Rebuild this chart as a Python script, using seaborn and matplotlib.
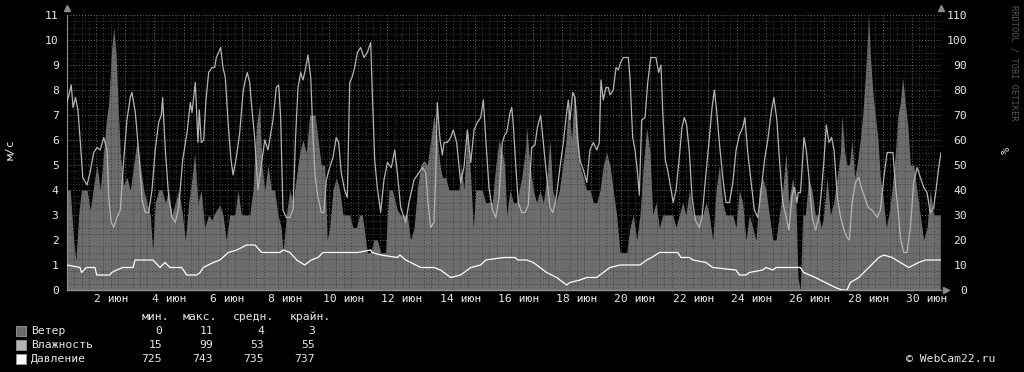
import matplotlib
matplotlib.use("Agg")
import matplotlib.pyplot as plt
from matplotlib.patches import Rectangle
import numpy as np
import pandas as pd
import seaborn as sns

# ---------------- data (hours since 1 June 00:00) ----------------
wind_hours = [0, 2.7, 5.5, 7.4, 9.6, 11.8, 16.5, 19.2, 22, 24.7, 27.4, 30.2, 32.4, 34.4, 36.5, 38.5, 40.4, 42, 43.9, 46.7,
              49.4, 52.1, 54.9, 57.7, 60.4, 63.2, 65.9, 68.6, 70.6, 72.7, 75.5, 78.3, 81, 83.8, 86.5, 89.2, 92, 94.7, 97.5,
              100.3, 103, 105.2, 107.9, 110.6, 113.4, 116.7, 119.5, 121.9, 126, 128.5, 131.2, 134, 138.2, 140.9, 143.6,
              146.9, 150.5, 153.2, 155.9, 158.7, 160.6, 162.9, 165.6, 168.3, 171.1, 173.8, 176.5, 177.9, 180.7, 183.5,
              186.2, 188.9, 191.7, 194.4, 197.1, 199.9, 202.7, 204.5, 206.8, 209.5, 212.3, 214.4, 216.4, 219.1, 221.8,
              224.6, 227.4, 230.1, 232.9, 235.6, 238.3, 241.1, 243.3, 247.4, 250.2, 252.9, 255.6, 258.4, 262.5, 263.9,
              265.3, 268, 272.1, 274.9, 277.6, 280.3, 283.1, 285.9, 288.6, 291.4, 294.1, 296.8, 299.6, 302.3, 305.1,
              307.3, 309.2, 312, 314.7, 317.4, 320.2, 322.9, 324.8, 327, 329.8, 332.6, 334.7, 336.7, 339.4, 342.1, 344.9,
              347.6, 350.4, 353.2, 355.9, 358.6, 360.6, 362.2, 365, 367.7, 370.5, 374.6, 377.3, 378.7, 381.4, 384.1,
              386.9, 389.7, 392.4, 395.2, 397.9, 400.1, 402.8, 405.6, 408.4, 411.1, 413, 415.8, 417.7, 419.9, 422.6,
              425.4, 428.1, 430.8, 433.6, 436.4, 439.1, 441.8, 444.6, 447.3, 450, 452.8, 455.6, 458.3, 461.1, 463.8,
              466.5, 469.3, 472, 474.8, 477.5, 480.3, 482.5, 485.2, 488, 490.7, 493.5, 496.2, 499, 501.7, 504.4, 507.2,
              509.9, 512.7, 515.5, 518.2, 520.9, 523.7, 526.4, 529.1, 531.9, 534.7, 537.4, 540.2, 542.9, 545.6, 548.4,
              551.1, 553.9, 556.6, 559.4, 562.1, 564.9, 567.6, 570.3, 573.1, 575.8, 578.6, 581.4, 584.1, 586.8, 589.6,
              592.3, 594.5, 597.8, 600.5, 602.2, 604.1, 606, 608.2, 611, 613.7, 616.5, 619.2, 621.4, 623.4, 626.1, 628.9,
              631.6, 634.4, 637.1, 638.4, 640.7, 642.6, 644.5, 646.7, 648.9, 650.8, 653.5, 655.5, 657.6, 659.3, 660.4,
              661.7, 663.7, 665.9, 668.1, 670, 672.8, 674.9, 676.9, 679.6, 682.4, 684.6, 686.5, 688.4, 690.6, 692.8,
              694.7, 697.5, 700.2, 702.9, 705.7, 708.5, 711.2, 714, 716.7, 719.4]
wind_values = [4.0, 4.0, 2.0, 1.2, 3.0, 4.0, 4.0, 3.2, 4.2, 5.0, 4.0, 5.5, 6.8, 7.5, 9.5, 10.5, 9.5, 7.5, 5.5, 4.2,
               4.5, 4.0, 5.0, 6.0, 5.0, 4.0, 3.5, 3.0, 1.6, 3.5, 4.0, 4.0, 3.5, 4.0, 3.0, 3.5, 4.0, 3.2, 2.0,
               3.5, 4.5, 5.5, 3.5, 4.0, 2.5, 3.0, 2.8, 3.1, 3.4, 3.0, 2.0, 3.0, 3.0, 4.0, 3.0,
               3.0, 3.0, 4.0, 6.5, 7.5, 5.0, 4.0, 5.0, 4.0, 4.0, 3.0, 2.5, 1.5, 3.0, 4.0,
               3.5, 4.5, 5.5, 6.0, 5.5, 7.0, 7.0, 7.0, 6.0, 5.0, 5.0, 2.0, 2.5, 4.0, 4.5,
               4.0, 3.0, 3.0, 3.0, 2.5, 2.5, 3.0, 3.0, 1.5, 1.5, 2.0, 2.0, 1.5, 1.5, 3.0,
               4.0, 4.0, 3.2, 3.0, 3.0, 3.0, 2.0, 2.5, 4.0, 5.0, 5.2, 5.0, 6.0, 7.0, 6.0,
               5.0, 4.5, 4.5, 4.0, 4.0, 4.0, 4.0, 5.0, 4.0, 6.5, 4.5, 2.5, 4.0, 4.0, 4.0, 3.5,
               3.5, 3.5, 5.0, 6.0, 5.5, 5.0, 3.0, 4.0, 3.5, 3.5, 4.5, 5.5, 6.5, 5.0, 4.0,
               3.5, 4.0, 3.5, 4.5, 6.0, 4.0, 3.5, 4.0, 5.0, 6.0, 7.5, 6.0, 8.0, 7.0, 5.0,
               4.5, 4.0, 4.0, 3.5, 3.5, 4.0, 5.0, 5.5, 5.0, 4.0, 3.0, 1.5, 1.5, 1.5, 2.5,
               3.0, 2.0, 3.0, 5.0, 6.5, 5.5, 3.0, 3.5, 2.5, 3.0, 3.0, 3.0, 3.0, 2.5, 3.0, 3.5,
               3.0, 4.0, 3.0, 3.0, 3.0, 3.0, 3.5, 3.0, 2.0, 4.0, 5.0, 3.5, 3.0, 3.0, 3.0,
               2.5, 4.0, 3.5, 2.0, 3.0, 2.5, 2.0, 4.0, 4.5, 4.0, 3.0, 2.0, 2.0, 3.0, 4.0,
               5.5, 3.5, 4.5, 3.5, 0.5, 0.0, 3.0, 3.0, 4.5, 4.0, 3.0, 3.0, 2.5, 3.0, 4.5, 3.0,
               3.5, 4.5, 5.5, 7.0, 5.5, 5.0, 5.0, 6.0, 4.5, 5.0, 6.0, 7.0, 8.5, 10.0, 11.0,
               9.5, 8.0, 7.0, 6.0, 4.5, 3.5, 2.5, 3.0, 4.0, 5.5, 7.0, 7.5, 8.5, 7.5, 6.5,
               5.0, 5.0, 4.0, 3.0, 2.0, 2.5, 4.0, 3.0, 3.0, 3.0]

hum_hours = [0, 3.5, 5, 7, 9, 11, 13, 16.5, 19, 22, 24.7, 27.4, 30.2, 33, 34.4, 36.5, 38.5, 41.2, 43.9, 46.7, 49.4,
             52.1, 53.5, 56.3, 59.6, 61.8, 64.5, 67.3, 70, 72.7, 75.5, 77.7, 78.8, 81, 83.8, 86.5, 89.2, 92, 95.3,
             98.9, 101.6, 103, 105.7, 107.9, 109, 110.6, 112.6, 114.5, 116.7, 119.5, 121.7, 123, 126.6, 128.5, 130.4,
             132.6, 134.9, 136.8, 139.5, 142.3, 145, 146.9, 148.5, 150.5, 152.4, 154.6, 157.3, 162.9, 165.6, 169.7,
             172.4, 174.4, 176, 177.9, 180.7, 183.5, 186.2, 188.1, 190.3, 192.5, 194.4, 196.3, 198.5, 200.8, 202.7,
             204.5, 206.8, 209.5, 211.7, 213.6, 216.4, 219.1, 221.8, 223.8, 225.9, 228.7, 230.9, 232.9, 234.8, 237,
             239.2, 241.9, 244.6, 247.4, 250.2, 251.5, 253.5, 255.6, 258.4, 261.1, 263.9, 267.2, 270, 272.1, 274.9,
             279, 281.7, 285.9, 290, 292.7, 295.5, 297.4, 299.6, 302.3, 303.7, 305, 307.3, 309.2, 310.6, 313.3, 316.1,
             318.2, 321, 324.3, 327, 329.8, 332.6, 335.3, 338, 340.8, 343, 344.9, 347.6, 350.4, 353.2, 355.9, 358.6,
             360.6, 362.2, 365, 366.4, 367.7, 369.9, 371.8, 374.6, 377.3, 380, 382.8, 385.5, 387.5, 390.2, 392.4,
             395.2, 397.9, 400.1, 402.8, 406.1, 408.9, 411.1, 413, 414.4, 416.6, 418.5, 420.4, 422.6, 425.4, 428.2,
             430.8, 433.6, 436.4, 438.5, 439.9, 441.8, 444, 445.9, 447.3, 450, 452.3, 454.2, 456.1, 458.3, 462.4,
             463.8, 466, 467.9, 469.8, 471.5, 473.4, 476.2, 478.4, 480.9, 485.2, 487.4, 489.3, 490.7, 492.9, 494.8,
             497.6, 499.4, 501.7, 504.4, 506.6, 508.5, 510.5, 512.7, 514.9, 517.6, 520.9, 523.1, 525.9, 529.2, 531.4,
             533.3, 535.3, 537.4, 540.2, 542.9, 545.7, 548.5, 551.2, 553.9, 556.7, 558.4, 560.8, 563.6, 566.3, 569.1,
             571.8, 574.6, 577.3, 580.1, 582.3, 584.8, 586.9, 589.7, 592.5, 594.7, 597.4, 599.3, 601.3, 602.4, 604.3,
             607.1, 609, 611.2, 613.9, 616.7, 619.4, 621.6, 623.6, 625.5, 627.7, 629.9, 631.9, 634.6, 637.3, 640.1,
             642.6, 644.5, 646.8, 649.5, 652.3, 655, 657.2, 660, 663.3, 667.4, 670.1, 672.9, 675.6, 678.4, 680.4,
             682.3, 684.6, 686.5, 689.3, 692, 694.8, 697.5, 700.3, 703, 705.8, 708.5, 711.2, 714, 715.9, 718.1, 720]
hum_values = [75, 82, 73, 77, 72, 59, 45, 42, 47, 55, 57, 56, 61, 56, 37, 27, 25, 29, 32, 52, 68,
              77, 79, 71, 52, 36, 31, 31, 40, 56, 67, 70, 77, 56, 37, 29, 27, 33, 52,
              63, 75, 71, 83, 59, 72, 59, 60, 76, 87, 89, 89, 93, 97, 89, 85,
              68, 53, 46, 53, 63, 79, 84, 87, 83, 72, 61, 40, 60, 56, 68,
              81, 82, 69, 32, 29, 29, 32, 59, 81, 87, 84, 88, 94, 85, 61,
              45, 37, 31, 31, 44, 49, 53, 61, 59, 47, 40, 37, 83, 85, 89,
              95, 97, 93, 95, 99, 79, 52, 41, 31, 44, 51, 49, 56, 47, 33,
              27, 35, 44, 47, 49, 47, 35, 25, 27, 45, 75, 60, 54, 59, 59, 61,
              64, 59, 43, 49, 64, 51, 64, 67, 69, 76, 61, 41, 32, 29, 37, 59,
              62, 63, 71, 73, 66, 48, 35, 31, 31, 34, 57, 58, 65, 70, 59,
              45, 33, 31, 36, 49, 59, 69, 76, 68, 79, 77, 61, 52, 48, 43,
              56, 59, 56, 59, 84, 76, 81, 81, 78, 80, 89, 88, 91, 93, 93,
              85, 61, 56, 48, 38, 68, 69, 83, 93, 93, 87, 90, 72, 52, 48,
              40, 35, 40, 53, 65, 69, 66, 55, 37, 28, 25, 29, 44, 61, 73,
              80, 71, 59, 45, 35, 35, 43, 56, 62, 65, 69, 55, 43, 32, 29,
              40, 52, 60, 71, 77, 68, 52, 35, 29, 24, 38, 41, 35, 39, 39,
              61, 56, 45, 29, 24, 29, 40, 52, 66, 59, 61, 56, 37, 29, 24,
              21, 20, 35, 43, 45, 40, 37, 33, 32, 29, 32, 45, 55, 55, 55,
              43, 32, 21, 15, 15, 25, 43, 49, 45, 41, 39, 31, 33, 40, 49, 55]

pres_hours = [0, 10.7, 12, 16, 23, 24.5, 35.4, 36.8, 41, 46, 54.4, 56, 70.8, 76.6, 80.7, 84.9, 94.5, 98.6, 106.9,
              109.6, 112.3, 120.5, 126, 132.9, 139.8, 148, 154.9, 160.4, 175.5, 178.2, 183.7, 189.2, 195.8, 201.3,
              206.8, 210.9, 220.5, 239.7, 250.2, 251.3, 258.4, 272.1, 274.3, 279, 291.4, 302.3, 307.8, 316.1, 324.3,
              332.6, 340.8, 344.9, 360, 369, 371.5, 378.7, 384.1, 395.2, 403.4, 411.6, 414.4, 422.6, 428.1, 436.3,
              447.3, 455.6, 466.5, 472, 477.5, 481.7, 488, 503.1, 505.8, 512.7, 515.7, 526.4, 532, 551.1, 553.9,
              559.4, 562.1, 573.1, 575.8, 581.4, 584.1, 602, 604.1, 606.9, 616.5, 624.7, 633, 638.4, 642.6, 645.3,
              652.3, 660.5, 668.8, 672.9, 679.7, 693.4, 701.6, 707.1, 720]
pres_values = [735, 734, 732, 734, 734, 731, 731, 732, 733, 734, 734, 737, 737, 734, 736, 734, 734, 731, 731,
               732, 734, 736, 737, 740, 741, 743, 743, 740, 740, 741, 740, 737, 735, 737,
               738, 740, 740, 740, 741, 740, 739, 738, 739, 737, 734, 734, 733, 730, 731,
               734, 735, 737, 738, 738, 737, 737, 736, 732, 730, 727, 728, 729, 730, 730,
               734, 735, 735, 735, 737, 738, 740, 740, 738, 738, 737, 736, 734, 733, 731,
               731, 732, 733, 734, 733, 734, 734, 734, 732, 730, 728, 726, 725, 725, 728,
               730, 734, 738, 739, 738, 734, 736, 737, 737]

series_names = ["Ветер", "Влажность", "Давление"]
stat_headers = ["мин.", "макс.", "средн.", "крайн."]
stat_values = [["0", "11", "4", "3"],
               ["15", "99", "53", "55"],
               ["725", "743", "735", "737"]]
tick_days = list(range(2, 31, 2))
tick_labels = [f"{d} июн" for d in tick_days]

# ---------------- style ----------------
W, H = 1024, 372
sns.set_theme(style="dark")
plt.rcParams['font.family'] = ['DejaVu Sans Mono', 'DejaVu Sans']
BG = "#000000"
TXT = "#e6e6e6"
FS = 8.2

fig = plt.figure(figsize=(W / 100, H / 100), dpi=100, facecolor=BG)
L, R, T, B = 67, 941, 15, 290
ax = fig.add_axes([L / W, 1 - B / H, (R - L) / W, (B - T) / H])
ax.set_facecolor(BG)

wind = pd.DataFrame({"day": 1 + np.array(wind_hours) / 24, "v": wind_values})
hum = pd.DataFrame({"day": 1 + np.array(hum_hours) / 24, "v": hum_values})
pres = pd.DataFrame({"day": 1 + np.array(pres_hours) / 24, "p": pres_values})
pres["v"] = (pres["p"] - 725) / 10.0
hum["v10"] = hum["v"] / 10.0

ax.fill_between(wind["day"], 0, wind["v"], color="#6c6c6c", lw=0, zorder=1)

# grid
for m in np.arange(1, 31.01, 0.25):
    major = abs(m - round(m)) < 1e-6
    ax.axvline(m, color="#6a6a6a" if major else "#3c3c3c", lw=0.7, ls=(0, (1, 2)), zorder=2)
for yv in np.arange(0, 11.01, 0.25):
    major = abs(yv - round(yv)) < 1e-6
    ax.axhline(yv, color="#6a6a6a" if major else "#3c3c3c", lw=0.7, ls=(0, (1, 2)), zorder=2)

sns.lineplot(data=hum, x="day", y="v10", ax=ax, color="#b4b4b4", lw=0.9, zorder=3, estimator=None, sort=False)
sns.lineplot(data=pres, x="day", y="v", ax=ax, color="#ffffff", lw=0.9, zorder=4, estimator=None, sort=False)

ax.set_xlim(1, 31)
ax.set_ylim(0, 11)
ax.set_xlabel("")
ax.set_ylabel("")
ax.set_xticks([d + 0.5 for d in tick_days])
ax.set_xticklabels(tick_labels)
ax.set_yticks(range(0, 12))
ax.tick_params(axis="x", length=0, pad=3, colors=TXT, labelsize=FS)
ax.tick_params(axis="y", length=0, pad=6, colors=TXT, labelsize=FS)
for s in ["top", "right"]:
    ax.spines[s].set_visible(False)
ax.spines["bottom"].set_color("#909090")
ax.spines["bottom"].set_linewidth(1.0)
ax.spines["left"].set_visible(True)
ax.spines["left"].set_color("#909090")
ax.spines["left"].set_linewidth(0.8)

ax2 = ax.twinx()
ax2.set_ylim(0, 110)
ax2.set_yticks(range(0, 111, 10))
ax2.tick_params(axis="y", length=0, pad=19, colors=TXT, labelsize=FS)
for lab in ax2.get_yticklabels():
    lab.set_horizontalalignment("right")
for s in ax2.spines.values():
    s.set_visible(False)
ax2.grid(False)
ax.grid(False)

# arrows
ax.plot([0], [1.025], marker="^", color="#8a8a8a", ms=5, transform=ax.transAxes, clip_on=False)
ax.plot([1], [1.025], marker="^", color="#8a8a8a", ms=5, transform=ax.transAxes, clip_on=False)
ax.plot([1.006], [0], marker=">", color="#8a8a8a", ms=5, transform=ax.transAxes, clip_on=False)

def ft(x, y, s, **kw):
    fig.text(x / W, 1 - y / H, s, **kw)

ft(11, 150, "м/с", rotation=90, ha="center", va="center", color=TXT, fontsize=FS)
ft(1003, 150, "%", rotation=270, ha="center", va="center", color=TXT, fontsize=FS)
ft(1014, 5, "RRDTOOL / TOBI OETIKER", rotation=270, ha="center", va="top", color="#555555", fontsize=6.2)

# legend
hx = [142, 183, 233, 290]
for x, s in zip(hx, stat_headers):
    ft(x, 316.5, s, ha="left", va="center", color=TXT, fontsize=FS)
colors = ["#6c6c6c", "#b4b4b4", "#ffffff"]
rows_y = [330.5, 344.5, 358.5]
num_right = [162, 213, 264, 315]
for name, col, yy, vals in zip(series_names, colors, rows_y, stat_values):
    fig.patches.append(Rectangle((16 / W, 1 - (yy + 5) / H), 10 / W, 10 / H, transform=fig.transFigure,
                                 facecolor=col, edgecolor="#9a9a9a", lw=0.6))
    ft(31, yy, name, ha="left", va="center", color=TXT, fontsize=FS)
    for xr, v in zip(num_right, vals):
        ft(xr, yy, v, ha="right", va="center", color=TXT, fontsize=FS)

ft(995, 358.5, "© WebCam22.ru", ha="right", va="center", color=TXT, fontsize=FS)

fig.savefig("out.png", dpi=100, facecolor=BG)
